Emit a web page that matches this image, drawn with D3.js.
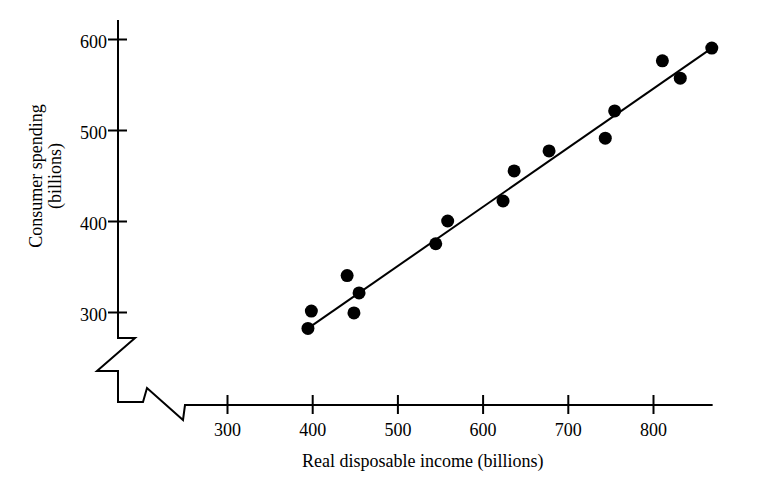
<!DOCTYPE html>
<html lang="en">
<head>
<meta charset="UTF-8">
<title>Consumer spending vs income</title>
<script src="https://d3js.org/d3.v7.min.js"></script>
<style>
    body { margin: 0; background: #fff; }
    text { font-family: "Liberation Serif", "DejaVu Serif", serif; fill: #000; }
    .axis path { display: none; }
    .axis line { stroke: #000; stroke-width: 2px; }
    .axis text { font-size: 18px; }
</style>
</head>
<body>
<svg width="768" height="498"></svg>
<script>
    // data
    var income   = [395, 399, 441, 449, 455, 545, 559, 624, 637, 678, 744, 755, 811, 832, 869];
    var spending = [282, 301, 340, 299, 321, 375, 400, 422, 455, 477, 491, 521, 576, 557, 590];
    var fitX = [395, 869];
    var fitY = [282, 590];
    var xTicks = [300, 400, 500, 600, 700, 800];
    var yTicks = [300, 400, 500, 600];

    var svg = d3.select("svg");

    var x = d3.scaleLinear().domain([300, 800]).range([227, 653]);
    var y = d3.scaleLinear().domain([300, 600]).range([312, 39]);

    var axisX = 118, axisY = 405;

    // x axis
    var gx = svg.append("g")
        .attr("class", "axis")
        .attr("transform", "translate(0," + axisY + ")")
        .call(d3.axisBottom(x).tickValues(xTicks).tickSize(9).tickPadding(20).tickFormat(d3.format("d")));
    gx.selectAll(".tick line").attr("y1", -10).attr("y2", 9);
    gx.selectAll(".tick text").attr("dy", "0.1em");

    // y axis
    var gy = svg.append("g")
        .attr("class", "axis")
        .attr("transform", "translate(" + axisX + ",0)")
        .call(d3.axisLeft(y).tickValues(yTicks).tickSize(10).tickPadding(1).tickFormat(d3.format("d")));
    gy.selectAll(".tick line").attr("x1", -10).attr("x2", 9);
    gy.selectAll(".tick text").attr("dy", "0.45em");

    // axis lines with the broken corner
    var brk = [
        [axisX, 20], [axisX, 338], [135, 338], [97, 371], [axisX, 371], [axisX, 402],
        [143, 402], [147, 388], [183, 420], [185, axisY], [x(870), axisY]
    ];
    svg.append("path")
        .attr("d", d3.line()(brk))
        .attr("fill", "none")
        .attr("stroke", "#000")
        .attr("stroke-width", 2)
        .attr("stroke-linejoin", "miter");

    // fitted line
    svg.append("line")
        .attr("x1", x(fitX[0])).attr("y1", y(fitY[0]))
        .attr("x2", x(fitX[1])).attr("y2", y(fitY[1]))
        .attr("stroke", "#000")
        .attr("stroke-width", 2);

    // points
    svg.append("g")
        .selectAll("circle")
        .data(income)
        .enter().append("circle")
        .attr("cx", function(d) { return x(d); })
        .attr("cy", function(d, i) { return y(spending[i]); })
        .attr("r", 6.5)
        .attr("fill", "#000");

    // titles
    svg.append("text")
        .attr("x", 302).attr("y", 467)
        .style("font-size", "18px")
        .text("Real disposable income (billions)");

    svg.append("text")
        .attr("transform", "translate(42,176) rotate(-90)")
        .attr("text-anchor", "middle")
        .style("font-size", "18px")
        .text("Consumer spending");
    svg.append("text")
        .attr("transform", "translate(61,176) rotate(-90)")
        .attr("text-anchor", "middle")
        .style("font-size", "18px")
        .text("(billions)");
</script>
</body>
</html>
